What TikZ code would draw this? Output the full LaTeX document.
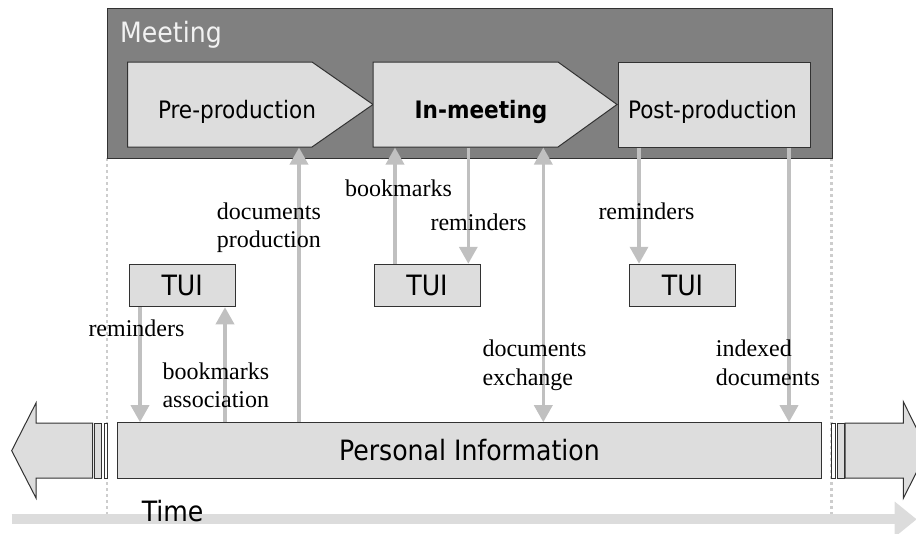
\documentclass[tikz,border=0pt]{standalone}
\usepackage{fontspec}
\setmainfont{Liberation Serif}
\newfontfamily\tah{DejaVu Sans Condensed}
\usetikzlibrary{arrows.meta}
\definecolor{boxfill}{RGB}{221,221,221}
\definecolor{meetfill}{RGB}{128,128,128}
\definecolor{edge}{RGB}{50,50,50}
\definecolor{arrowgray}{RGB}{192,192,192}
\definecolor{timegray}{RGB}{220,220,220}
\definecolor{dotgray}{RGB}{205,205,205}
\definecolor{meettext}{RGB}{242,242,242}
\begin{document}
\begin{tikzpicture}[x=1pt,y=-1pt,
  stage/.style={fill=boxfill,draw=edge,line width=1pt},
  stagetext/.style={font=\tah\fontsize{24}{28}\selectfont,anchor=base,inner sep=0},
  tuibox/.style={fill=boxfill,draw=edge,line width=1pt,minimum width=106pt,minimum height=42.5pt,inner sep=0,font=\tah\fontsize{28}{32}\selectfont},
  garrow/.style={draw=arrowgray,line width=3.5pt,-{Triangle[width=18pt,length=17pt]}},
  gdarrow/.style={draw=arrowgray,line width=3.5pt,{Triangle[width=18pt,length=17pt]}-{Triangle[width=18pt,length=17pt]}},
  lbl/.style={font=\fontsize{24}{28.5}\selectfont,align=left,anchor=base west,inner sep=0},
  bigarrow/.style={fill=boxfill,draw=edge,line width=1pt},
  dotline/.style={draw=dotgray,line width=2.5pt,dash pattern=on 3pt off 3pt}]
\useasboundingbox (0,0) rectangle (916,533);

% time axis
\draw[timegray,line width=10pt,-{Triangle[width=34pt,length=22pt]}] (11.7,519.3) -- (916.7,519.3);
\node[anchor=base west,inner sep=0,font=\tah\fontsize{28}{32}\selectfont] (time) at (141.7,521.7) {Time};

% dotted borders
\draw[dotline] (107,158) -- (107,514);
\draw[dotline] (831.5,158) -- (831.5,514);

% meeting frame
\node[draw=edge,fill=meetfill,line width=1.2pt,minimum width=724.7pt,minimum height=149.7pt,inner sep=0,anchor=north west] (meeting) at (107,8) {};
\node[anchor=base west,inner sep=0,text=meettext,font=\tah\fontsize{28}{32}\selectfont] (meetlbl) at (120,42.3) {Meeting};

% stages
\draw[stage] (127.7,62) -- (312,62) -- (373,104.5) -- (312,147) -- (127.7,147) -- cycle;
\draw[stage] (373,62) -- (558,62) -- (617,104.5) -- (558,147) -- (373,147) -- cycle;
\draw[stage] (618,62) rectangle (810,147);
\node[stagetext] (pre) at (237,118.3) {Pre-production};
\node[stagetext,font=\tah\bfseries\fontsize{24}{28}\selectfont] (inm) at (481,118.3) {In-meeting};
\node[stagetext] (post) at (712.5,118.3) {Post-production};

% TUIs and personal information
\node[tuibox] (tui1) at (182.2,285.5) {TUI};
\node[tuibox] (tui2) at (427,285.5) {TUI};
\node[tuibox] (tui3) at (682.5,285.5) {TUI};
\node[fill=boxfill,draw=edge,line width=1pt,minimum width=704.4pt,minimum height=55.6pt,inner sep=0,font=\tah\fontsize{28}{32}\selectfont] (pi) at (469.5,450.5) {Personal Information};

% big side arrows
\draw[bigarrow] (92.7,423) -- (36,423) -- (36,403) -- (11.7,450.7) -- (36,498) -- (36,478) -- (92.7,478) -- cycle;
\draw[bigarrow] (94.3,423) rectangle (101.7,478);
\draw[bigarrow,fill=white] (104,423) rectangle (107.3,478);
\draw[bigarrow,fill=white] (831,423) rectangle (835,478);
\draw[bigarrow] (837.3,423) rectangle (844,478);
\draw[bigarrow] (845,423) -- (903.3,423) -- (903.3,401.7) -- (927.6,450.5) -- (903.3,498.3) -- (903.3,478) -- (845,478) -- cycle;

% connector x positions
\coordinate (stageB) at (0,147.5);
\coordinate (x1) at (299,0);
\coordinate (x2) at (395,0);
\coordinate (x3) at (468.3,0);
\coordinate (x4) at (543.3,0);
\coordinate (x5) at (639,0);
\coordinate (x6) at (789,0);
\coordinate (x7) at (140,0);
\coordinate (x8) at (225,0);

\draw[garrow] (x1 |- pi.north) -- (x1 |- stageB);
\draw[garrow] (x2 |- tui2.north) -- (x2 |- stageB);
\draw[garrow] (x3 |- stageB) -- (x3 |- tui2.north);
\draw[gdarrow] (x4 |- stageB) -- (x4 |- pi.north);
\draw[garrow] (x5 |- stageB) -- (x5 |- tui3.north);
\draw[garrow] (x6 |- stageB) -- (x6 |- pi.north);
\draw[garrow] (x7 |- tui1.south) -- (x7 |- pi.north);
\draw[garrow] (x8 |- pi.north) -- (x8 |- tui1.south);

% labels (base anchor = baseline of the last line)
\node[lbl] (l1) at (216.7,247.5) {documents\\production};
\node[lbl] (l2) at (345,196.7) {bookmarks};
\node[lbl,anchor=base east] (l3) at (526.7,230) {reminders};
\node[lbl] (l4) at (598.3,219.3) {reminders};
\node[lbl] (l5) at (88.3,336) {reminders};
\node[lbl] (l6) at (162.3,407.5) {bookmarks\\association};
\node[lbl] (l7) at (482.3,385) {documents\\exchange};
\node[lbl] (l8) at (715.7,385) {indexed\\documents};
\end{tikzpicture}
\end{document}
